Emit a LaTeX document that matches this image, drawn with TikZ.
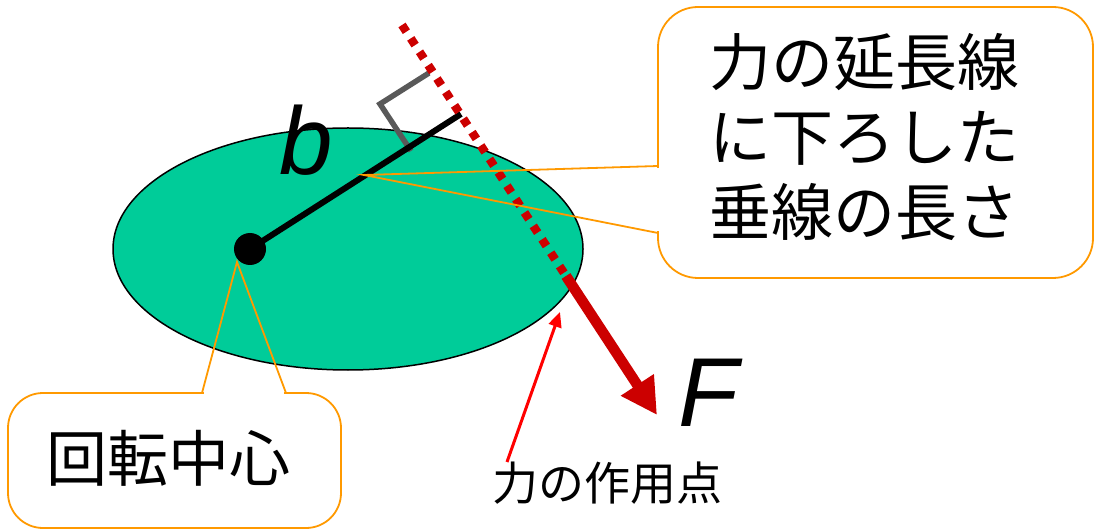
\documentclass[tikz,border=0pt]{standalone}
\usepackage{fontspec}
\newfontfamily\jp{Noto Sans CJK JP}
\newfontfamily\ls{Liberation Sans}
\usetikzlibrary{arrows.meta,shapes.geometric}
\definecolor{diskgreen}{RGB}{0,204,153}
\definecolor{dred}{RGB}{204,0,0}
\definecolor{corange}{RGB}{255,153,0}
\definecolor{gmark}{RGB}{89,89,89}
\tikzset{
  callbox/.style={draw=corange, line width=1.8pt},
  callline/.style={draw=corange, line width=1.8pt, line join=miter},
  eraser/.style={draw=white, line width=3.2pt},
  jptext/.style={font=\jp, inner sep=0pt, align=center},
}
\begin{document}
\begin{tikzpicture}[x=1pt,y=-1pt]
\useasboundingbox (0,0) rectangle (1095,529);

% disk
\node[ellipse, draw=black, line width=1.5pt, fill=diskgreen, minimum width=470pt, minimum height=242pt, inner sep=0pt] (disk) at (348,249) {};

% geometry points
\coordinate (O) at (250,249);
\coordinate (P) at (461,114);
\coordinate (L0) at (402,25);
\coordinate (A) at (566,276);
\coordinate (T) at (657,415);
\coordinate (R1) at (429,73);
\coordinate (R2) at (380,104);
\coordinate (R3) at (411,151);

% right angle mark
\draw[gmark, line width=5.5pt, line join=miter] (R1) -- (R2) -- (R3);

% moment arm
\draw[black, line width=6pt] (O) -- (P);
\node[circle, fill=black, minimum size=32pt, inner sep=0pt] (dot) at (O) {};

% line of action (dotted) and force arrow
\draw[dred, line width=8.5pt, dash pattern=on 8pt off 8pt] (L0) -- (A);
\draw[dred, line width=10.5pt, -{Triangle[length=36pt,width=37pt]}] (A) -- (T);

% labels b and F
\node[font=\ls\itshape\fontsize{96}{96}\selectfont, inner sep=0pt] (b) at (306,140) {b};
\node[font=\ls\itshape\fontsize{98}{98}\selectfont, inner sep=0pt] (F) at (708,393) {F};

% callout 1
\node[callbox, rounded corners=40pt, minimum width=435pt, minimum height=271pt, inner sep=0pt] (c1) at (875.5,142.5) {};
\coordinate (c1a) at (658,166);
\coordinate (c1b) at (658,233);
\coordinate (c1t) at (364,175);
\draw[eraser] (658,167.6) -- (658,231.4);
\draw[callline] (c1a) -- (c1t) -- (c1b);
\node[jptext, font=\jp\fontsize{62}{75}\selectfont] (t1) at (864,137) {力の延長線\\に下ろした\\垂線の長さ};

% callout 2
\node[callbox, rounded corners=35pt, minimum width=333pt, minimum height=135pt, inner sep=0pt] (c2) at (174.5,460.5) {};
\coordinate (c2a) at (202,393);
\coordinate (c2b) at (286,393);
\coordinate (c2t) at (237,262);
\draw[eraser] (203.6,393) -- (284.4,393);
\draw[callline] (c2a) -- (c2t) -- (c2b);
\node[jptext, font=\jp\fontsize{61}{61}\selectfont] (t2) at (168,458) {回転中心};

% point of application
\node[jptext, font=\jp\fontsize{46}{46}\selectfont] (t3) at (607,483) {力の作用点};
\coordinate (s1) at (507,462);
\coordinate (s2) at (560,312);
\draw[red, line width=3pt, -{Triangle[length=15pt,width=13pt]}] (s1) -- (s2);
\end{tikzpicture}
\end{document}
